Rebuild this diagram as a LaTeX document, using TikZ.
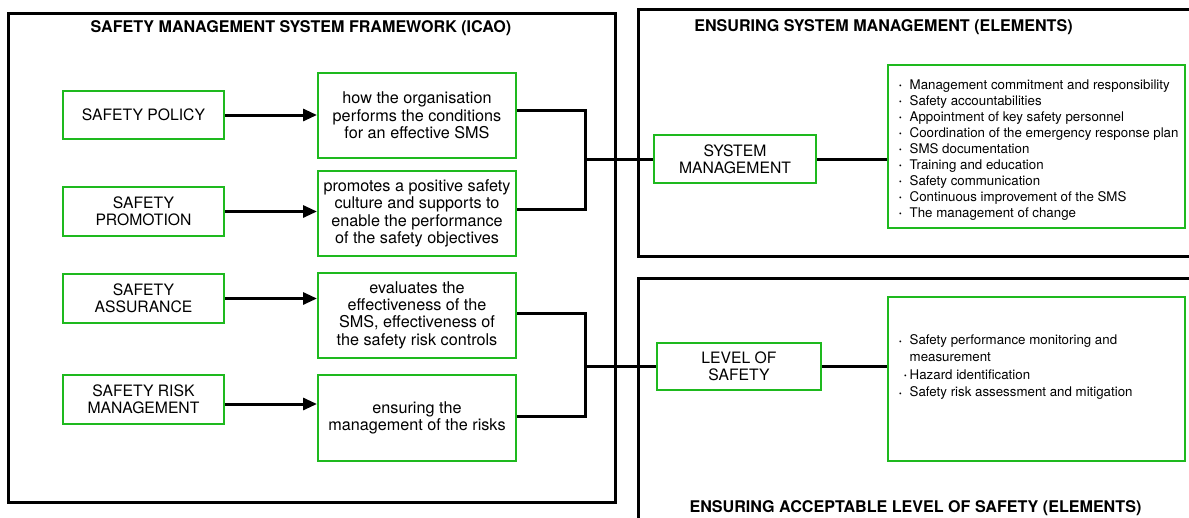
\documentclass[tikz,border=0pt]{standalone}
\usepackage{fontspec}
\setmainfont{TeX Gyre Heros}
\usetikzlibrary{arrows.meta}
\definecolor{boxgreen}{RGB}{30,185,30}
\newcommand\mybody{\fontsize{15.7}{17.3}\selectfont}
\newcommand\mymid{\fontsize{16.2}{17.4}\selectfont}
\newcommand\mylist{\fontsize{13.3}{16}\selectfont}
\newcommand\mylistb{\fontsize{13.3}{17.3}\selectfont}
\newcommand\mytitle{\bfseries\fontsize{16.1}{18}\selectfont}
\newcommand\bul{\makebox[10.5pt][l]{\raisebox{0.5pt}{\fontsize{7.5}{7.5}\selectfont\textbullet}}}
\begin{document}
\begin{tikzpicture}[x=1pt,y=-1pt,
  frame/.style={line width=3pt},
  gbox/.style={draw=boxgreen, line width=2pt, inner sep=0pt, align=center, font=\mybody},
  mbox/.style={gbox, font=\mymid, minimum width=198pt},
  conn/.style={line width=3pt},
  arr/.style={line width=3pt, -{Triangle[length=14pt,width=12pt]}},
  title/.style={font=\mytitle, anchor=base, inner sep=0pt},
  listtext/.style={align=left, anchor=north west, inner sep=0pt}]
\useasboundingbox (0,0) rectangle (1189,517);
\fill[white] (0,0) rectangle (1189,517);
% frames
\draw[frame] (8.5,13) rectangle (615,502);
\draw[frame] (1200,9.5) -- (638.5,9.5) -- (638.5,256.5) -- (1200,256.5);
\draw[frame] (638.5,530) -- (638.5,278) -- (1200,278);
% titles
\node[title] (t1) at (301,32.5) {SAFETY MANAGEMENT SYSTEM FRAMEWORK (ICAO)};
\node[title] (t2) at (883.5,31.5) {ENSURING SYSTEM MANAGEMENT (ELEMENTS)};
\node[title] (t3) at (915.5,512.5) {ENSURING ACCEPTABLE LEVEL OF SAFETY (ELEMENTS)};
% left column
\node[gbox, minimum width=161pt, minimum height=48pt] (pol) at (143.5,115) {SAFETY POLICY};
\node[gbox, minimum width=161pt, minimum height=49pt] (pro) at (143.5,211.5) {SAFETY\\PROMOTION};
\node[gbox, minimum width=161pt, minimum height=49pt] (ass) at (143.5,298.5) {SAFETY\\ASSURANCE};
\node[gbox, minimum width=161pt, minimum height=49pt] (risk) at (143.5,399) {SAFETY RISK\\MANAGEMENT};
% middle column
\node[mbox, minimum height=85pt] (d1) at (417,115.5) {how the organisation\\performs the conditions\\for an effective SMS};
\node[mbox, minimum height=85pt] (d2) at (417,213.5) {promotes a positive safety\\culture and supports to\\enable the performance\\of the safety objectives};
\node[mbox, minimum height=85pt] (d3) at (417,315) {evaluates the\\effectiveness of the\\SMS, effectiveness of\\the safety risk controls};
\node[mbox, minimum height=86pt] (d4) at (417,418) {ensuring the\\management of the risks};
% right side
\node[gbox, minimum width=162pt, minimum height=48pt] (sys) at (735,159) {SYSTEM\\MANAGEMENT};
\node[gbox, minimum width=164pt, minimum height=47pt] (lev) at (739,366) {LEVEL OF\\SAFETY};
\node[gbox, minimum width=297pt, minimum height=163pt] (l1) at (1036.5,146.5) {};
\node[gbox, minimum width=297pt, minimum height=164pt] (l2) at (1036.5,379) {};
\node[listtext, font=\mylist] (l1t) at (899,79.5) {\bul Management commitment and responsibility\\
\bul Safety accountabilities\\
\bul Appointment of key safety personnel\\
\bul Coordination of the emergency response plan\\
\bul SMS documentation\\
\bul Training and education\\
\bul Safety communication\\
\bul Continuous improvement of the SMS\\
\bul The management of change};
\node[listtext, font=\mylistb] (l2t) at (899,334.5) {\bul Safety performance monitoring and\\
\hspace{10.5pt}measurement\\
\hspace{5pt}\makebox[5.5pt][l]{\raisebox{0.5pt}{\fontsize{7.5}{7.5}\selectfont\textbullet}}Hazard identification\\
\bul Safety risk assessment and mitigation};
% arrows
\draw[arr] (pol.east) -- (pol.east -| d1.west);
\draw[arr] (pro.east) -- (pro.east -| d2.west);
\draw[arr] (ass.east) -- (ass.east -| d3.west);
\draw[arr] ([yshift=-5pt]risk.east) -- ([yshift=-5pt]risk.east -| d4.west);
% connectors
\coordinate (bus1) at (585,159);
\coordinate (bus2) at (585,366);
\draw[conn] ([yshift=5.5pt]d1.east) -| (bus1) |- ([yshift=4pt]d2.east);
\draw[conn] (bus1) -- (sys.west);
\draw[conn] ([yshift=2pt]d3.east) -| (bus2) |- ([yshift=2pt]d4.east);
\draw[conn] (bus2) -- (lev.west);
\draw[conn] (sys.east) -- (sys.east -| l1.west);
\draw[conn] (lev.east) -- (lev.east -| l2.west);
\end{tikzpicture}
\end{document}
